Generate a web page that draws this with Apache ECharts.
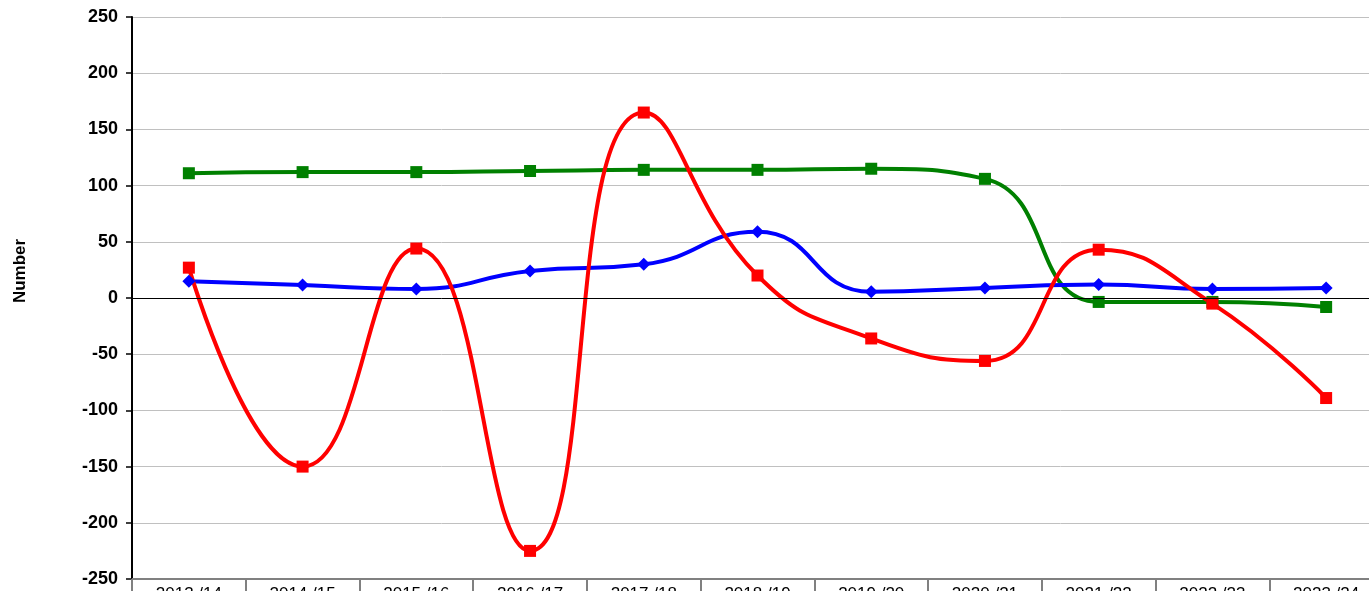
<!DOCTYPE html>
<html>
<head>
<meta charset="utf-8">
<script src="https://cdn.jsdelivr.net/npm/echarts@6/dist/echarts.min.js"></script>
<style>
  html, body { margin: 0; padding: 0; background: #fff; overflow: hidden; }
  #chart { width: 1369px; height: 591px; }
</style>
</head>
<body>
<div id="chart"></div>
<script>
// Seasons on the x axis
const seasons = [
  "2013 /14", "2014 /15", "2015 /16", "2016 /17", "2017 /18", "2018 /19",
  "2019 /20", "2020 /21", "2021 /22", "2022 /23", "2023 /24"
];

// Series values
const blueValues = [15, 11.5, 8, 24, 30, 59, 5.5, 9, 12, 8, 9];
const redValues = [27, -150, 44, -225, 165, 20, -36, -56, 43, -5, -89];
const greenValues = [111, 112, 112, 113, 114, 114, 115, 106, -3.5, -3.5, -8];

const yMin = -250;
const yMax = 250;
const yStep = 50;

const chart = echarts.init(document.getElementById("chart"));

function lineSeries(name, data, color, symbol, size) {
  return {
    name: name,
    type: "line",
    data: data,
    smooth: 0.5,
    symbol: symbol,
    symbolSize: size,
    showAllSymbol: true,
    lineStyle: { color: color, width: 4 },
    itemStyle: { color: color },
    emphasis: { disabled: true },
  };
}

const blue = lineSeries("Blue", blueValues, "#0000ff", "diamond", 13);
const green = lineSeries("Green", greenValues, "#008000", "rect", 12);
const red = lineSeries("Red", redValues, "#ff0000", "rect", 12);

// Zero line drawn on the first series
green.markLine = {
  silent: true,
  symbol: ["none", "none"],
  label: { show: false },
  lineStyle: { color: "#000", width: 1, type: "solid" },
  data: [{ yAxis: 0 }],
};

chart.setOption({
  animation: false,
  grid: {
    left: 132,
    top: 17,
    bottom: 12,
    width: 1251,
    containLabel: false,
    outerBoundsMode: "none",
  },
  graphic: [
    {
      type: "text",
      x: 20,
      y: 271,
      rotation: Math.PI / 2,
      style: {
        text: "Number",
        font: "bold 17px 'Liberation Sans', Arial, sans-serif",
        fill: "#000",
        textAlign: "center",
        textVerticalAlign: "middle",
      },
    },
  ],
  xAxis: {
    type: "category",
    data: seasons,
    boundaryGap: true,
    position: "bottom",
    axisLine: { onZero: false, lineStyle: { color: "#808080", width: 2 } },
    axisTick: {
      show: true,
      alignWithLabel: false,
      length: 20,
      lineStyle: { color: "#808080", width: 2 },
    },
    axisLabel: {
      margin: 7,
      color: "#000",
      fontSize: 17,
      fontFamily: "'Liberation Sans', Arial, sans-serif",
    },
    splitLine: { show: false },
  },
  yAxis: {
    type: "value",
    min: yMin,
    max: yMax,
    interval: yStep,
    axisLine: { show: true, lineStyle: { color: "#000", width: 2 } },
    axisTick: { show: true, length: 6, lineStyle: { color: "#000", width: 1.5 } },
    axisLabel: {
      margin: 14,
      color: "#000",
      fontSize: 18,
      fontWeight: "bold",
      fontFamily: "'Liberation Sans', Arial, sans-serif",
    },
    splitLine: { show: true, lineStyle: { color: "#c0c0c0", width: 1 } },
  },
  series: [green, blue, red],
});
</script>
</body>
</html>
